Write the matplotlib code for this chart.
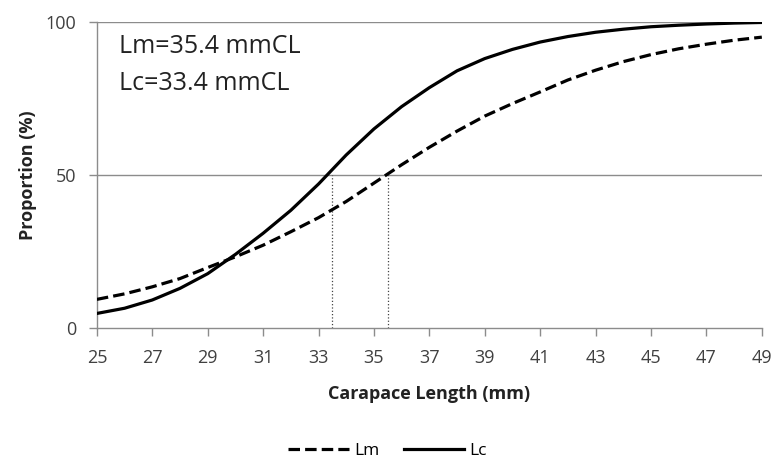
import matplotlib
matplotlib.use("Agg")
import matplotlib.pyplot as plt

# Valores
comprimento = [25, 26, 27, 28, 29, 30, 31, 32, 33, 34, 35, 36, 37,
               38, 39, 40, 41, 42, 43, 44, 45, 46, 47, 48, 49]
prop_lm = [9.3, 11.1, 13.4, 16.1, 19.7, 23.2, 27.0, 31.4, 36.0, 41.3, 47.3, 53.3, 59.0,
           64.3, 69.2, 73.3, 77.1, 81.0, 84.2, 87.0, 89.3, 91.2, 92.7, 94.0, 95.0]
prop_lc = [4.7, 6.4, 9.1, 12.9, 17.7, 24.0, 30.9, 38.4, 47.0, 56.5, 65.0, 72.3, 78.5,
           84.0, 88.0, 91.0, 93.4, 95.2, 96.6, 97.6, 98.4, 98.9, 99.3, 99.6, 99.8]
lm50 = 35.5
lc50 = 33.5
texto_lm = "Lm=35.4 mmCL"
texto_lc = "Lc=33.4 mmCL"
xticks = list(range(25, 50, 2))
yticks = [0, 50, 100]

plt.rcParams['font.family'] = ['Open Sans', 'DejaVu Sans']
cinza = "#8c8c8c"

fig = plt.figure(figsize=(7.75, 4.65), dpi=100)
ax = fig.add_axes([0.125, 0.295, 0.858, 0.658])

ax.axhline(50, color=cinza, linewidth=1, zorder=1)
ax.axhline(100, color=cinza, linewidth=1, zorder=1)

ax.plot(comprimento, prop_lm, color="black", linewidth=2.3, linestyle=(0, (3.6, 1.6)),
        label="Lm", zorder=3)
ax.plot(comprimento, prop_lc, color="black", linewidth=2.3, label="Lc", zorder=3)

ax.vlines([lc50, lm50], 0, 50, colors="#444444", linestyles=":", linewidth=0.9, zorder=2)

ax.text(0.034, 0.92, texto_lm, transform=ax.transAxes, fontsize=18, va="center",
        color="#222222")
ax.text(0.034, 0.80, texto_lc, transform=ax.transAxes, fontsize=18, va="center",
        color="#222222")

ax.set_xlim(25, 49)
ax.set_ylim(0, 100)
ax.set_xticks(xticks)
ax.set_yticks(yticks)
ax.tick_params(axis="both", colors=cinza, labelcolor="#404040", labelsize=13,
               length=6, width=1, direction="out")
ax.tick_params(axis="y", pad=9)
ax.tick_params(axis="x", pad=9)
for lado in ["top", "right"]:
    ax.spines[lado].set_visible(False)
for lado in ["left", "bottom"]:
    ax.spines[lado].set_color(cinza)
    ax.spines[lado].set_linewidth(1)

ax.set_xlabel("Carapace Length (mm)", fontsize=13, fontweight="bold", labelpad=13,
              color="#222222")
ax.set_ylabel("Proportion (%)", fontsize=13, fontweight="bold", labelpad=6,
              color="#222222")

fig.legend(loc="center", bbox_to_anchor=(0.5, 0.03), ncol=2, frameon=False,
           fontsize=12.5, handlelength=3.5, handletextpad=0.3, columnspacing=1.4,
           borderpad=0)

fig.savefig("out.png", dpi=100)
